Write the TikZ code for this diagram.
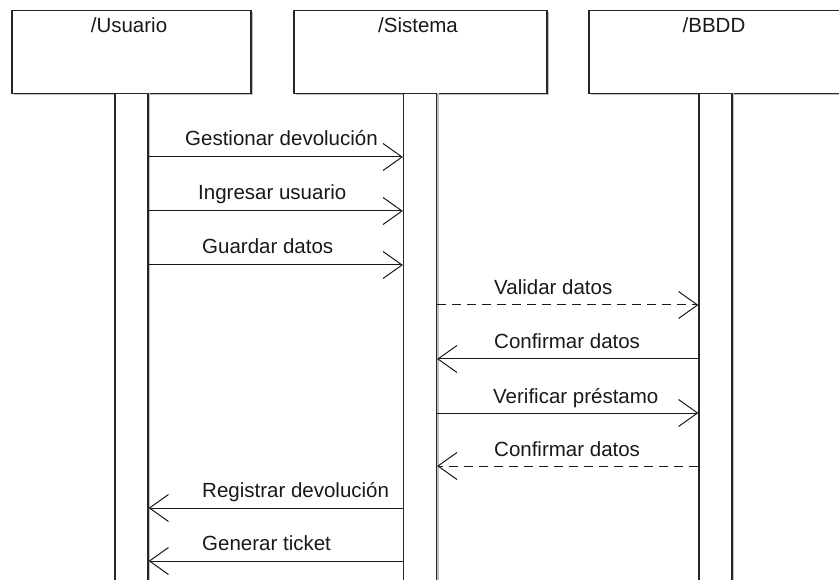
\documentclass[tikz,border=0pt]{standalone}
\usepackage{fontspec}
\setmainfont{Liberation Sans}
\usetikzlibrary{arrows.meta}
\begin{document}
\begin{tikzpicture}[x=1pt,y=-1pt,
  every node/.style={font=\fontsize{20.5}{24}\selectfont, text=black!90},
  head/.style={draw=black!85, line width=1.2pt, fill=white, inner sep=0pt,
    minimum width=#1, minimum height=83pt, anchor=north},
  headshadow/.style={fill=black!25, draw=none, inner sep=0pt,
    minimum width=#1, minimum height=83pt, anchor=north},
  lifebar/.style={draw=black!85, line width=1.2pt, fill=white, inner sep=0pt,
    minimum width=33pt, minimum height=500pt, anchor=north},
  barshadow/.style={fill=black!25, draw=none, inner sep=0pt,
    minimum width=33pt, minimum height=500pt, anchor=north},
  msg/.style={draw=black!90, line width=1pt,
    -{Straight Barb[length=19pt,width=27pt]}},
  reply/.style={msg, dash pattern=on 9pt off 6pt},
  lbl/.style={anchor=base west, inner sep=0pt}]
\clip (0,0) rectangle (839,580);
\fill[white] (0,0) rectangle (839,580);

% participant boxes with a faint drop shadow
\node[headshadow=239pt] at (133.5,12) {};
\node[headshadow=253pt] at (422.5,12) {};
\node[headshadow=256pt] at (719,12) {};
\node[head=239pt] (usr) at (131.5,10) {};
\node[head=253pt] (sys) at (420.5,10) {};
\node[head=256pt] (db)  at (717,10) {};
\node[anchor=base] at (129,33) {/Usuario};
\node[anchor=base] at (418,33) {/Sistema};
\node[anchor=base] at (714,33) {/BBDD};

% activation bars
\node[barshadow] at (133.5,93) {};
\node[barshadow] at (422,93) {};
\node[barshadow] at (717.5,93) {};
\node[lifebar] (ubar) at (131.5,93) {};
\node[lifebar] (sbar) at (420,93) {};
\node[lifebar] (dbar) at (715.5,93) {};

% message rows
\coordinate (r1) at (0,157);
\coordinate (r2) at (0,211);
\coordinate (r3) at (0,265);
\coordinate (r4) at (0,305);
\coordinate (r5) at (0,359);
\coordinate (r6) at (0,413);
\coordinate (r7) at (0,466);
\coordinate (r8) at (0,508);
\coordinate (r9) at (0,561);

\draw[msg]   (ubar.east |- r1) -- (sbar.west |- r1);
\draw[msg]   (ubar.east |- r2) -- (sbar.west |- r2);
\draw[msg]   (ubar.east |- r3) -- (sbar.west |- r3);
\draw[reply] (sbar.east |- r4) -- (dbar.west |- r4);
\draw[msg]   (dbar.west |- r5) -- (sbar.east |- r5);
\draw[msg]   (sbar.east |- r6) -- (dbar.west |- r6);
\draw[reply] (dbar.west |- r7) -- (sbar.east |- r7);
\draw[msg]   (sbar.west |- r8) -- (ubar.east |- r8);
\draw[msg]   (sbar.west |- r9) -- (ubar.east |- r9);

\node[lbl] at (185,146) {Gestionar devolución};
\node[lbl] at (198,200) {Ingresar usuario};
\node[lbl] at (202,254) {Guardar datos};
\node[lbl] at (494,295) {Validar datos};
\node[lbl] at (494,349) {Confirmar datos};
\node[lbl] at (493,403) {Verificar préstamo};
\node[lbl] at (494,456) {Confirmar datos};
\node[lbl] at (202,497) {Registrar devolución};
\node[lbl] at (202,550) {Generar ticket};
\end{tikzpicture}
\end{document}
